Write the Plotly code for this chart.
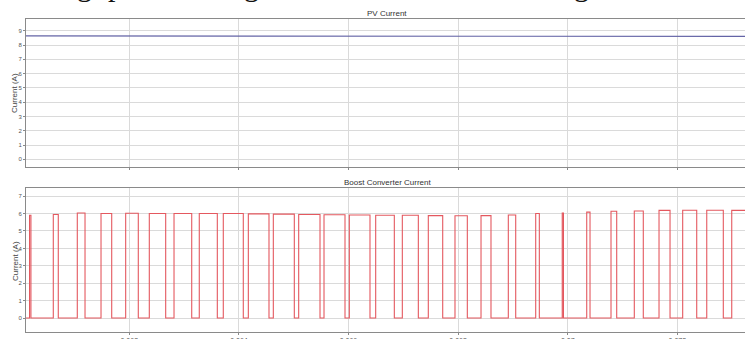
import plotly.graph_objects as go

# ---------------- data ----------------
x_start = 0.060115
x_end = 0.073235

# PV current (A)
pv_time = [0.060115, 0.0620, 0.0620, 0.073235]
pv_current = [8.64, 8.64, 8.60, 8.60]

# Boost converter current: pulse rise time, fall time and level (A)
pulse_on = [0.060180, 0.060613, 0.061051, 0.061484, 0.061934, 0.062365, 0.062816,
            0.063277, 0.063715, 0.064172, 0.064628, 0.065091, 0.065553, 0.066015,
            0.066496, 0.066982, 0.067456, 0.067943, 0.068418, 0.068916, 0.069416,
            0.069900, 0.070347, 0.070790, 0.071215, 0.071666, 0.072098, 0.072537,
            0.072993]
pulse_off = [0.060205, 0.060704, 0.061192, 0.061679, 0.062164, 0.062664, 0.063139,
             0.063606, 0.064080, 0.064549, 0.065011, 0.065480, 0.065936, 0.066392,
             0.066836, 0.067274, 0.067719, 0.068168, 0.068600, 0.069051, 0.069482,
             0.069922, 0.070407, 0.070894, 0.071379, 0.071867, 0.072354, 0.072839,
             0.073400]
pulse_level = [5.90, 5.95, 6.03, 6.00, 6.02, 6.00, 6.00,
               6.00, 6.00, 5.98, 5.97, 5.95, 5.93, 5.92,
               5.90, 5.90, 5.88, 5.87, 5.88, 5.92, 6.00,
               6.03, 6.08, 6.13, 6.15, 6.18, 6.19, 6.19,
               6.18]

x_ticks = [0.062, 0.064, 0.066, 0.068, 0.070, 0.072]
x_tick_labels = ["0.062", "0.064", "0.066", "0.068", "0.07", "0.072"]
y1_ticks = [0, 1, 2, 3, 4, 5, 6, 7, 8, 9]
y2_ticks = [0, 1, 2, 3, 4, 5, 6, 7]

# build step waveform from pulses
bc_time = [x_start]
bc_current = [0.0]
for on, off, lvl in zip(pulse_on, pulse_off, pulse_level):
    bc_time += [on, on, off, off]
    bc_current += [0.0, lvl, lvl, 0.0]

# ---------------- figure ----------------
FONT = "Liberation Sans, Arial, Helvetica, sans-serif"
GRID = "#dadada"
FRAME = "#8a8a8a"

fig = go.Figure()
fig.add_trace(go.Scatter(x=pv_time, y=pv_current, mode="lines",
                         line=dict(color="#6464a6", width=1.2),
                         xaxis="x", yaxis="y", showlegend=False, hoverinfo="skip"))
fig.add_trace(go.Scatter(x=bc_time, y=bc_current, mode="lines",
                         line=dict(color="#e4585f", width=1.1),
                         xaxis="x2", yaxis="y2", showlegend=False, hoverinfo="skip"))

common_x = dict(range=[x_start, x_end], tickvals=x_ticks, ticktext=x_tick_labels,
                showgrid=True, gridcolor=GRID, gridwidth=1, zeroline=False,
                showline=True, linecolor=FRAME, linewidth=1, mirror=True,
                ticks="outside", ticklen=2, tickcolor=FRAME, automargin=False,
                tickfont=dict(family=FONT, size=7, color="#555555"))
common_y = dict(showgrid=True, gridcolor=GRID, gridwidth=1, zeroline=False,
                showline=True, linecolor=FRAME, linewidth=1, mirror=False,
                ticks="outside", ticklen=2, tickcolor=FRAME, automargin=False,
                tickfont=dict(family=FONT, size=6, color="#555555"))

fig.update_layout(
    width=745, height=339,
    margin=dict(l=26, r=0, t=19, b=7, autoexpand=False),
    paper_bgcolor="white", plot_bgcolor="white",
    xaxis=dict(common_x, anchor="y", showticklabels=False),
    yaxis=dict(common_y, domain=[0.5256, 1.0], range=[-0.57, 9.82], tickvals=y1_ticks, anchor="x"),
    xaxis2=dict(common_x, anchor="y2", showticklabels=True),
    yaxis2=dict(common_y, domain=[0.0, 0.4591], range=[-0.8, 7.45], tickvals=y2_ticks, anchor="x2"),
)

ann = []
# subplot titles
ann.append(dict(text="PV Current", x=0.5025, y=1.0, xref="paper", yref="paper",
                xanchor="center", yanchor="bottom", yshift=-1, showarrow=False,
                font=dict(family=FONT, size=8, color="#333333")))
ann.append(dict(text="Boost Converter Current", x=0.5025, y=0.4591, xref="paper", yref="paper",
                xanchor="center", yanchor="bottom", yshift=-1, showarrow=False,
                font=dict(family=FONT, size=8, color="#333333")))
# y-axis titles
for yc in [(332 - 93) / 313, (332 - 261) / 313]:
    ann.append(dict(text="Current (A)", x=(15 - 26) / 719, y=yc, xref="paper", yref="paper",
                    xanchor="center", yanchor="middle", textangle=-90, showarrow=False,
                    font=dict(family=FONT, size=8, color="#444444")))
# cropped descenders of the page text above the figure
for ch, px in [("g", 84), ("p", 115), ("g", 251), ("g", 581)]:
    ann.append(dict(text=ch, x=(px - 26) / 719, y=(332 - 5) / 313, xref="paper", yref="paper",
                    xanchor="center", yanchor="bottom", yshift=1, showarrow=False,
                    font=dict(family="Liberation Serif, Times New Roman, serif", size=30, color="#111111")))
fig.update_layout(annotations=ann)

fig.write_html("out.html", config={"displayModeBar": False},
               post_script="document.body.style.margin='0';")
